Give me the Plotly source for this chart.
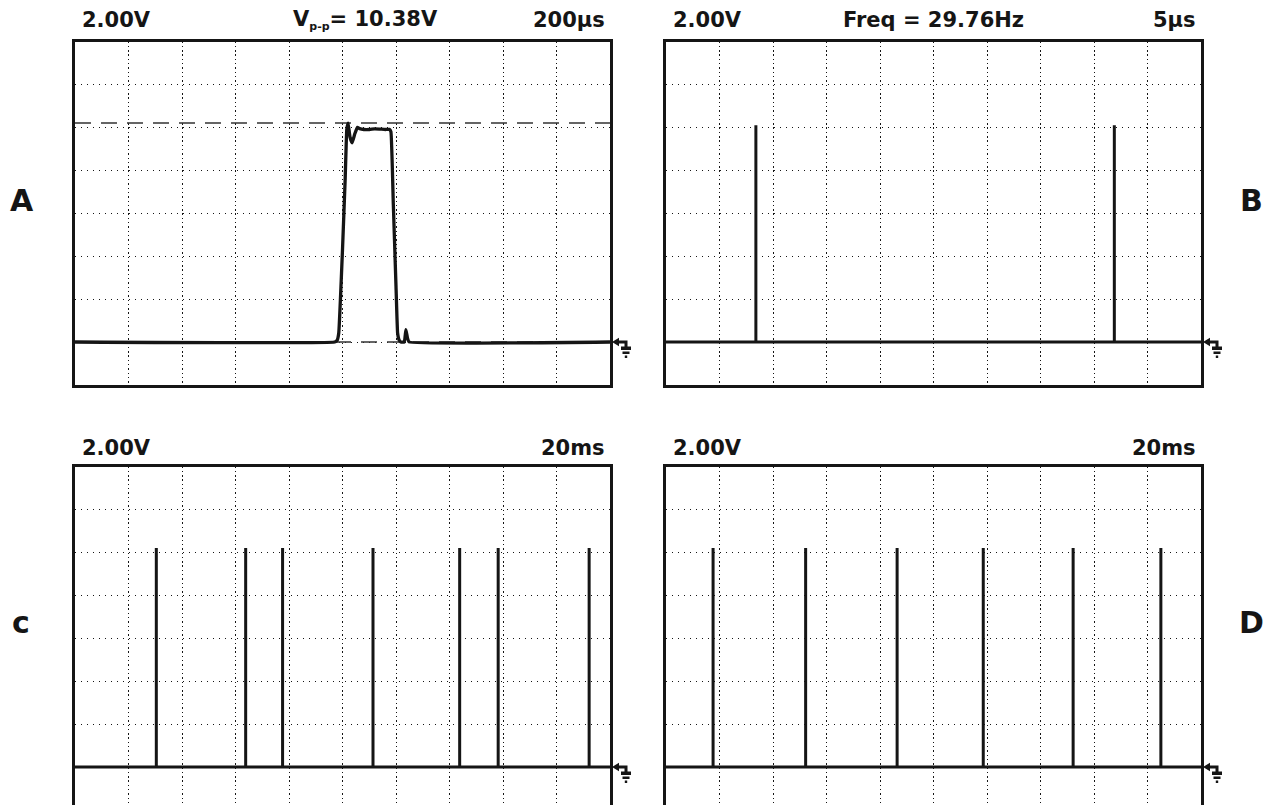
import plotly.graph_objects as go

# ---------------- data ----------------
# Panel A: single pulse (time in µs, voltage in V)
a_time_us = [0, 971, 980, 986, 1000, 1010, 1016, 1021, 1028, 1036, 1046, 1056, 1064,
             1080, 1101, 1120, 1138, 1160, 1175, 1181, 1190, 1200, 1206, 1212, 1218,
             1231, 1237, 1243, 1249, 2000]
a_volts = [0, 0, 0.08, 0.42, 4.3, 7.6, 9.9, 10.2, 9.55, 9.28, 9.7, 10.0, 9.94,
           9.9, 9.9, 9.93, 9.92, 9.9, 9.91, 9.8, 6.4, 2.6, 0.42, 0.08, 0,
           0, 0.57, 0.18, 0, 0]
a_cursor_hi = 10.2
a_cursor_lo = 0.0

# Panel B: two pulses (time in µs)
b_spike_times_us = [8.4, 41.9]
b_spike_volts = [10.1, 10.1]

# Panel C: pulses (time in ms)
c_spike_times_ms = [30.4, 63.8, 77.6, 111.4, 143.8, 158.2, 192.2]
c_spike_volts = [10.2] * 7

# Panel D: pulses (time in ms)
d_spike_times_ms = [17.6, 52.2, 86.4, 118.6, 152.2, 185.0]
d_spike_volts = [10.2] * 6

headers = {
    "A": ("2.00V", "V<sub><span style='font-size:11px'>p-p</span></sub>= 10.38V", "200µs"),
    "B": ("2.00V", "Freq = 29.76Hz", "5µs"),
    "C": ("2.00V", "", "20ms"),
    "D": ("2.00V", "", "20ms"),
}
panel_labels = ["A", "B", "c", "D"]

# ---------------- layout constants ----------------
W, H = 1276, 805
FONT = "DejaVu Sans"
INK = "#151515"
DIV = 42.93  # px per vertical division

cols = {"L": (75, 610), "R": (666, 1201)}
panels = {
    "A": dict(col="L", top=41.5, ground=342.0, xr=[0, 2000], dt=200, ty=20),
    "B": dict(col="R", top=41.5, ground=342.0, xr=[0, 50], dt=5, ty=20),
    "C": dict(col="L", top=466.5, ground=767.0, xr=[0, 200], dt=20, ty=448),
    "D": dict(col="R", top=466.5, ground=767.0, xr=[0, 200], dt=20, ty=448),
}

fig = go.Figure()
axnames = {"A": "", "B": "2", "C": "3", "D": "4"}


def spikes(times, volts):
    xs, ys = [], []
    for t, v in zip(times, volts):
        xs += [t, t, t]
        ys += [0, v, 0]
    return xs, ys


for key, p in panels.items():
    n = axnames[key]
    x0, x1 = cols[p["col"]]
    top = p["top"]
    bot = min(top + 8 * DIV, H)
    ylo = -(bot - p["ground"]) / DIV * 2
    yhi = (p["ground"] - top) / DIV * 2
    xa = "xaxis" + n
    ya = "yaxis" + n
    fig.layout[xa] = dict(
        domain=[x0 / W, x1 / W], range=p["xr"], dtick=p["dt"], tick0=0,
        showgrid=True, gridcolor=INK, gridwidth=1.4, griddash="1.4px,2.9px",
        zeroline=False, showticklabels=False, ticks="",
        showline=True, linecolor=INK, linewidth=3, mirror=True,
        anchor="y" + n, fixedrange=True,
    )
    fig.layout[ya] = dict(
        domain=[1 - bot / H, 1 - top / H], range=[ylo, yhi], dtick=2, tick0=-2,
        showgrid=True, gridcolor=INK, gridwidth=1.4, griddash="1.4px,4.6px",
        zeroline=False, showticklabels=False, ticks="",
        showline=True, linecolor=INK, linewidth=3, mirror=True,
        anchor="x" + n, fixedrange=True,
    )

    # header texts
    left_t, mid_t, right_t = headers[key]
    ytxt = 1 - p["ty"] / H
    hfont = dict(family=FONT, size=21, color=INK, weight="bold")
    fig.add_annotation(xref="paper", yref="paper", x=(x0 + 5) / W, y=ytxt,
                       text=left_t, showarrow=False, xanchor="left", yanchor="middle",
                       font=hfont)
    fig.add_annotation(xref="paper", yref="paper", x=(x1 - 3) / W, y=ytxt,
                       text=right_t, showarrow=False, xanchor="right", yanchor="middle",
                       font=hfont)
    if mid_t:
        mx = 291 if key == "A" else (x0 + x1) / 2
        fig.add_annotation(xref="paper", yref="paper", x=mx / W, y=ytxt,
                           text=mid_t, showarrow=False,
                           xanchor="left" if key == "A" else "center", yanchor="middle",
                           font=hfont)

    # ground marker at right edge
    gy = 1 - p["ground"] / H
    path = ("M 2,0 L 9,4.2 L 9,-4.2 Z "
            "M 9,1.6 L 17.5,1.6 L 17.5,-4.5 L 21,-4.5 L 21,-8 L 11,-8 "
            "L 11,-4.5 L 14.5,-4.5 L 14.5,-1.6 L 9,-1.6 Z "
            "M 12.5,-9.5 L 19.5,-9.5 L 19.5,-12 L 12.5,-12 Z "
            "M 14.8,-13.5 L 17.2,-13.5 L 17.2,-16 L 14.8,-16 Z")
    fig.add_shape(type="path", xref="paper", yref="paper", xsizemode="pixel",
                  ysizemode="pixel", xanchor=x1 / W, yanchor=gy, path=path,
                  fillcolor=INK, line=dict(width=0))

# Panel A traces
fig.add_trace(go.Scatter(x=[0, 2000], y=[a_cursor_hi, a_cursor_hi], mode="lines",
                         line=dict(color="#333333", width=1.6, dash="16px,10px"),
                         xaxis="x", yaxis="y", showlegend=False, hoverinfo="skip"))
fig.add_trace(go.Scatter(x=[0, 2000], y=[a_cursor_lo, a_cursor_lo], mode="lines",
                         line=dict(color="#333333", width=1.6, dash="16px,10px"),
                         xaxis="x", yaxis="y", showlegend=False, hoverinfo="skip"))
fig.add_trace(go.Scatter(x=a_time_us, y=a_volts, mode="lines",
                         line=dict(color=INK, width=3.3, shape="spline", smoothing=0.3),
                         xaxis="x", yaxis="y", showlegend=False))

# Panels B, C, D traces
for times, volts, rng, n in [
    (b_spike_times_us, b_spike_volts, [0, 50], "2"),
    (c_spike_times_ms, c_spike_volts, [0, 200], "3"),
    (d_spike_times_ms, d_spike_volts, [0, 200], "4"),
]:
    xs, ys = spikes(times, volts)
    xs = [rng[0]] + xs + [rng[1]]
    ys = [0] + ys + [0]
    fig.add_trace(go.Scatter(x=xs, y=ys, mode="lines", line=dict(color=INK, width=3),
                             xaxis="x" + n, yaxis="y" + n, showlegend=False))

# side labels
for lab, (lx, ly) in zip(panel_labels, [(22, 200), (1251, 200), (21, 622), (1251, 622)]):
    fig.add_annotation(xref="paper", yref="paper", x=lx / W, y=1 - ly / H, text=lab,
                       showarrow=False, xanchor="center", yanchor="middle",
                       font=dict(family=FONT, size=30, color=INK, weight="bold"))

fig.update_layout(width=W, height=H, margin=dict(l=0, r=0, t=0, b=0),
                  paper_bgcolor="white", plot_bgcolor="white", showlegend=False)

fig.write_html("out.html", config={"displayModeBar": False})
